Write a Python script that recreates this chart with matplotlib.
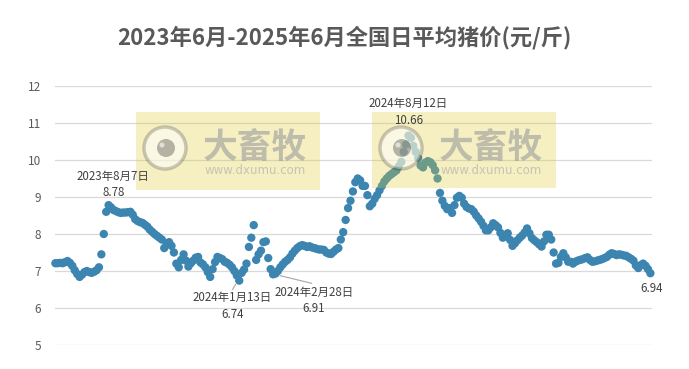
import matplotlib
matplotlib.use('Agg')
import matplotlib.pyplot as plt
import pandas as pd
from matplotlib.patches import Rectangle, Ellipse

plt.rcParams['font.family'] = ['Noto Sans CJK SC', 'DejaVu Sans']

# ---------------- data ----------------
start_date = '2023-06-01'
step = '3D'
prices = [
    7.21, 7.21, 7.22, 7.21, 7.24, 7.27, 7.22, 7.14, 7.02, 6.92,
    6.84, 6.90, 6.97, 7.00, 6.97, 6.95, 6.98, 7.02, 7.10, 7.45,
    8.00, 8.60, 8.78, 8.72, 8.65, 8.62, 8.59, 8.57, 8.58, 8.58,
    8.59, 8.60, 8.52, 8.40, 8.35, 8.32, 8.30, 8.25, 8.20, 8.12,
    8.06, 8.00, 7.95, 7.90, 7.85, 7.62, 7.74, 7.78, 7.68, 7.50,
    7.20, 7.10, 7.30, 7.45, 7.28, 7.12, 7.21, 7.28, 7.36, 7.38,
    7.23, 7.18, 7.10, 6.97, 6.84, 7.05, 7.24, 7.38, 7.35, 7.32,
    7.25, 7.22, 7.17, 7.10, 7.00, 6.88, 6.74, 6.95, 7.04, 7.20,
    7.65, 7.90, 8.24, 7.30, 7.45, 7.55, 7.78, 7.80, 7.35, 7.05,
    6.91, 6.93, 7.00, 7.10, 7.18, 7.25, 7.30, 7.37, 7.47, 7.55,
    7.62, 7.67, 7.70, 7.68, 7.65, 7.67, 7.64, 7.62, 7.60, 7.58,
    7.58, 7.57, 7.50, 7.47, 7.46, 7.52, 7.58, 7.62, 7.85, 8.05,
    8.38, 8.70, 8.90, 9.15, 9.40, 9.50, 9.45, 9.30, 9.30, 9.05,
    8.75, 8.82, 8.95, 9.05, 9.18, 9.30, 9.42, 9.50, 9.57, 9.62,
    9.67, 9.72, 9.83, 9.95, 10.22, 10.42, 10.66, 10.60, 10.38, 10.22,
    10.05, 9.85, 9.80, 9.93, 9.97, 9.94, 9.86, 9.72, 9.50, 9.11,
    8.90, 8.76, 8.67, 8.70, 8.57, 8.78, 8.98, 9.03, 8.98, 8.82,
    8.73, 8.69, 8.67, 8.60, 8.50, 8.42, 8.33, 8.22, 8.10, 8.10,
    8.18, 8.29, 8.24, 8.18, 8.03, 7.90, 7.96, 8.02, 7.84, 7.68,
    7.75, 7.83, 7.90, 7.96, 8.04, 8.15, 8.02, 7.89, 7.83, 7.78,
    7.72, 7.66, 7.80, 7.98, 7.98, 7.85, 7.50, 7.20, 7.22, 7.38,
    7.48, 7.37, 7.25, 7.25, 7.20, 7.25, 7.28, 7.30, 7.32, 7.35,
    7.37, 7.30, 7.25, 7.26, 7.28, 7.30, 7.32, 7.35, 7.38, 7.44,
    7.48, 7.46, 7.43, 7.45, 7.44, 7.42, 7.41, 7.37, 7.33, 7.28,
    7.15, 7.08, 7.16, 7.20, 7.14, 7.05, 6.94,
]
dates = pd.date_range(start_date, periods=len(prices), freq=step)

title = '2023年6月-2025年6月全国日平均猪价(元/斤)'
y_ticks = [5, 6, 7, 8, 9, 10, 11, 12]

ann_dates = ['2023-08-07', '2024-01-13', '2024-02-28', '2024-08-12']
ann_values = [8.78, 6.74, 6.91, 10.66]
ann_labels = ['2023年8月7日', '2024年1月13日', '2024年2月28日', '2024年8月12日']
last_label = '6.94'

# ---------------- figure ----------------
W, H = 689, 369
fig = plt.figure(figsize=(W / 100, H / 100), dpi=100)

def fx(px):
    return px / W

def fy(py):
    return 1 - py / H

ax_left, ax_right, ax_top, ax_bot = 55, 652, 86, 345
ax = fig.add_axes([fx(ax_left), fy(ax_bot), fx(ax_right - ax_left), (ax_bot - ax_top) / H])

d0 = pd.Timestamp(start_date)
ax.set_xlim(d0 - pd.Timedelta(days=0.5), d0 + pd.Timedelta(days=740))
ax.set_ylim(5, 12)
ax.set_yticks(y_ticks)
ax.set_yticklabels([str(t) for t in y_ticks])
ax.tick_params(axis='y', length=0, labelsize=8.5, labelcolor='#595959', pad=10)
ax.set_xticks([])
for s in ax.spines.values():
    s.set_visible(False)
ax.grid(axis='y', color='#D9D9D9', linewidth=0.9)
ax.set_axisbelow(True)

blue = '#3C85B0'
ax.scatter(dates, prices, s=36, color=blue, edgecolors='none', zorder=3, clip_on=False)

txtc = '#404040'
fs = 8.3
tz = 10
# 2023-08-07
p = (pd.Timestamp(ann_dates[0]), ann_values[0])
ax.annotate(ann_labels[0], p, xytext=(4, 29), textcoords='offset pixels',
            ha='center', va='center', fontsize=fs, color=txtc, zorder=tz)
ax.annotate(f'{ann_values[0]:.2f}', p, xytext=(4, 13), textcoords='offset pixels',
            ha='center', va='center', fontsize=fs, color=txtc, zorder=tz)
# 2024-01-13
p = (pd.Timestamp(ann_dates[1]), ann_values[1])
ax.annotate('', p, xytext=(-5, -9), textcoords='offset pixels',
            arrowprops=dict(arrowstyle='-', color='#A6A6A6', lw=0.8, shrinkA=0, shrinkB=3))
ax.annotate(ann_labels[1], p, xytext=(-5, -17), textcoords='offset pixels',
            ha='center', va='center', fontsize=fs, color=txtc, zorder=tz)
ax.annotate(f'{ann_values[1]:.2f}', p, xytext=(-5, -34), textcoords='offset pixels',
            ha='center', va='center', fontsize=fs, color=txtc, zorder=tz)
# 2024-02-28
p = (pd.Timestamp(ann_dates[2]), ann_values[2])
ax.annotate('', p, xytext=(37, -9), textcoords='offset pixels',
            arrowprops=dict(arrowstyle='-', color='#A6A6A6', lw=0.8, shrinkA=0, shrinkB=4))
ax.annotate(ann_labels[2], p, xytext=(39, -18), textcoords='offset pixels',
            ha='center', va='center', fontsize=fs, color=txtc, zorder=tz)
ax.annotate(f'{ann_values[2]:.2f}', p, xytext=(39, -34), textcoords='offset pixels',
            ha='center', va='center', fontsize=fs, color=txtc, zorder=tz)
# 2024-08-12
p = (pd.Timestamp(ann_dates[3]), ann_values[3])
ax.annotate(ann_labels[3], p, xytext=(0, 32), textcoords='offset pixels',
            ha='center', va='center', fontsize=fs, color=txtc, zorder=tz)
ax.annotate(f'{ann_values[3]:.2f}', p, xytext=(0, 15), textcoords='offset pixels',
            ha='center', va='center', fontsize=fs, color=txtc, zorder=tz)
# last
p = (dates[-1], prices[-1])
ax.annotate(last_label, p, xytext=(1, -15), textcoords='offset pixels',
            ha='center', va='center', fontsize=fs, color=txtc, zorder=tz)

fig.text(0.5, fy(38), title, ha='center', va='center', fontsize=16,
         fontweight='bold', color='#595959')

# ---------------- watermarks (over the points, under the labels) ----------------
def watermark(x0, y0, w, h):
    tf = fig.transFigure
    ax.add_patch(Rectangle((fx(x0), fy(y0 + h)), w / W, h / H, transform=tf,
                           facecolor='#DECD37', edgecolor='none', alpha=0.3,
                           zorder=5, clip_on=False))
    cx, cy, r = x0 + 29, y0 + 36, 21
    ax.add_patch(Ellipse((fx(cx), fy(cy)), 2 * r / W, 2 * r / H, transform=tf,
                         facecolor='#FFFFFF', edgecolor='none', alpha=0.55,
                         zorder=6, clip_on=False))
    ax.add_patch(Ellipse((fx(cx), fy(cy)), 2 * r / W, 2 * r / H, transform=tf,
                         facecolor='none', edgecolor='#000000', lw=2.5, alpha=0.2,
                         zorder=6, clip_on=False))
    ax.add_patch(Ellipse((fx(cx + 1), fy(cy)), 18 / W, 18 / H, transform=tf,
                         facecolor='#000000', edgecolor='none', alpha=0.28,
                         zorder=7, clip_on=False))
    ax.add_patch(Ellipse((fx(cx - 3), fy(cy - 3)), 5 / W, 5 / H, transform=tf,
                         facecolor='#FFFFFF', edgecolor='none', alpha=0.6,
                         zorder=8, clip_on=False))
    ax.text(fx(x0 + 119), fy(y0 + 35), '大畜牧', transform=tf, ha='center', va='center',
            fontsize=25, fontweight='bold', color='#9A9A9A', alpha=0.6, zorder=8)
    ax.text(fx(x0 + 119), fy(y0 + 58), 'www.dxumu.com', transform=tf, ha='center',
            va='center', fontsize=8.5, color='#A8A8A8', alpha=0.6, zorder=8,
            family=['DejaVu Sans'])

watermark(136, 112, 184, 78)
watermark(372, 112, 184, 76)

fig.savefig('out.png', dpi=100)
